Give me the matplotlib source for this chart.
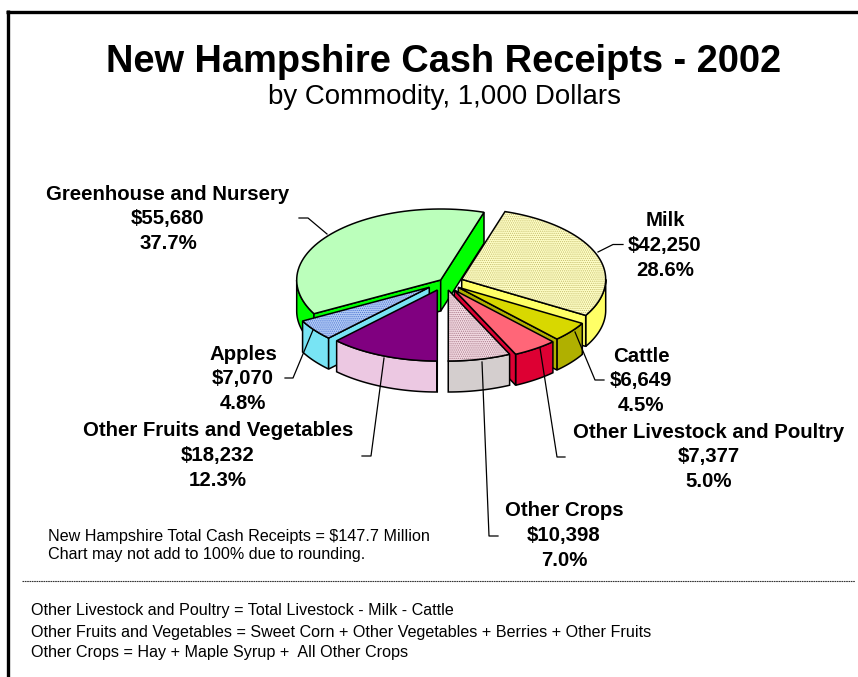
import numpy as np
import matplotlib
matplotlib.use("Agg")
import matplotlib.pyplot as plt
from matplotlib.patches import Polygon

plt.rcParams["font.family"] = ["Liberation Sans", "DejaVu Sans"]
plt.rcParams["hatch.linewidth"] = 0.6

# clockwise from the first slice
commodities = ["Milk", "Cattle", "Other Livestock and Poultry", "Other Crops",
               "Other Fruits and Vegetables", "Apples", "Greenhouse and Nursery"]
receipts = [42250, 6649, 7377, 10398, 18232, 7070, 55680]
shares = [28.6, 4.5, 5.0, 7.0, 12.3, 4.8, 37.7]

top_colors = ["#FFFFC8", "#D8D800", "#FF6678", "#F4DCE4", "#800080", "#B4CCF6", "#BBFFBB"]
hatch_colors = ["#C4BC6C", None, None, "#A87888", None, "#4C74D0", None]
side_colors = ["#FFFF66", "#B0B000", "#DD0033", "#D4CECE", "#ECC8E2", "#78E4F4", "#00FF00"]

START = 17.5
RX, RY = 144, 71
DEPTH = 31
CX, CY = 447, 286
# pull of each slice away from the pie centre, pixels
pull_x = [14.7, 11.3, 7.3, 1.3, -9.7, -17.7, -6.3]
pull_y = [-6.7, 1.3, 4, 4, 4, 1.3, -6]
draw_order = [6, 0, 5, 1, 2, 4, 3]

label_pos = [(665, 221), (641, 356), (709, 432), (564, 511), (218, 431), (243, 354), (168, 194)]
leaders = [
    [(598, 252), (613, 244.5), (623, 244.5)],
    [(575, 332), (595, 380), (604, 380)],
    [(540, 348), (557, 457), (565, 457)],
    [(482, 362), (489, 536), (498, 536)],
    [(384, 358), (371, 456), (362, 456)],
    [(313, 330), (293, 378), (285, 378)],
    [(327, 234), (308, 218), (299, 218)],
]

fig = plt.figure(figsize=(8.58, 6.77), dpi=100)
ax = fig.add_axes([0, 0, 1, 1])
ax.set_xlim(0, 858)
ax.set_ylim(677, 0)
ax.axis("off")


def rim_point(ax_x, ax_y, deg):
    a = np.radians(deg)
    return ax_x + RX * np.sin(a), ax_y - RY * np.cos(a)


def draw_slice(i, a0, a1):
    x0 = CX + pull_x[i]
    y0 = CY + pull_y[i]
    angles = np.linspace(a0, a1, 60)
    arc = np.array([rim_point(x0, y0, a) for a in angles])
    drop = np.array([0, DEPTH])

    # rim wall, only the part facing the viewer
    lo, hi = max(a0, 90), min(a1, 270)
    if hi > lo:
        wall = np.array([rim_point(x0, y0, a) for a in np.linspace(lo, hi, 40)])
        ax.add_patch(Polygon(np.vstack([wall, (wall + drop)[::-1]]), facecolor=side_colors[i],
                             edgecolor="black", lw=1.1, zorder=2))

    # cut faces
    for angle, sign in ((a0, -1), (a1, 1)):
        if np.sin(np.radians(angle)) * sign > 0:
            p = np.array(rim_point(x0, y0, angle))
            c = np.array([x0, y0])
            ax.add_patch(Polygon([c, p, p + drop, c + drop], facecolor=side_colors[i],
                                 edgecolor="black", lw=1.1, zorder=2))

    pts = np.vstack([[x0, y0], arc])
    if hatch_colors[i]:
        ax.add_patch(Polygon(pts, facecolor=top_colors[i], edgecolor=hatch_colors[i],
                             hatch="........", lw=0, zorder=2))
    else:
        ax.add_patch(Polygon(pts, facecolor=top_colors[i], lw=0, zorder=2))
    ax.add_patch(Polygon(pts, fill=False, edgecolor="black", lw=1.1, zorder=2))


edges = START + np.concatenate([[0], np.cumsum(np.array(shares) / sum(shares) * 360)])
for i in draw_order:
    draw_slice(i, edges[i], edges[i + 1])

for line in leaders:
    xs, ys = zip(*line)
    ax.plot(xs, ys, color="black", lw=0.9, zorder=3)

for name, value, share, (x, y) in zip(commodities, receipts, shares, label_pos):
    for k, txt in enumerate([name, f"\\${value:,}", f"{share:.1f}%"]):
        ax.text(x, y + k * 24.6, txt, ha="center", va="center", fontsize=14.7,
                fontweight="bold", color="black")

# frame
ax.plot([7.5, 7.5], [10, 677], color="black", lw=2.4, solid_capstyle="butt")
ax.plot([6, 858], [11.5, 11.5], color="black", lw=2.4, solid_capstyle="butt")

ax.text(444, 62, "New Hampshire Cash Receipts - 2002", ha="center", va="center",
        fontsize=27.4, fontweight="bold")
ax.text(444, 97, "by Commodity, 1,000 Dollars", ha="center", va="center", fontsize=19.9)

ax.text(48, 537, "New Hampshire Total Cash Receipts = \\$147.7 Million", va="center", fontsize=11.6)
ax.text(48, 555, "Chart may not add to 100% due to rounding.", va="center", fontsize=11.6)

ax.plot([22, 855], [581, 581], color="#333333", lw=0.8, ls=(0, (1.5, 0.6)))

ax.text(31, 611, "Other Livestock and Poultry = Total Livestock - Milk - Cattle", va="center", fontsize=11.6)
ax.text(31, 632, "Other Fruits and Vegetables = Sweet Corn + Other Vegetables + Berries + Other Fruits",
        va="center", fontsize=11.6)
ax.text(31, 652, "Other Crops = Hay + Maple Syrup +  All Other Crops", va="center", fontsize=11.6)

fig.savefig("out.png", dpi=100)
